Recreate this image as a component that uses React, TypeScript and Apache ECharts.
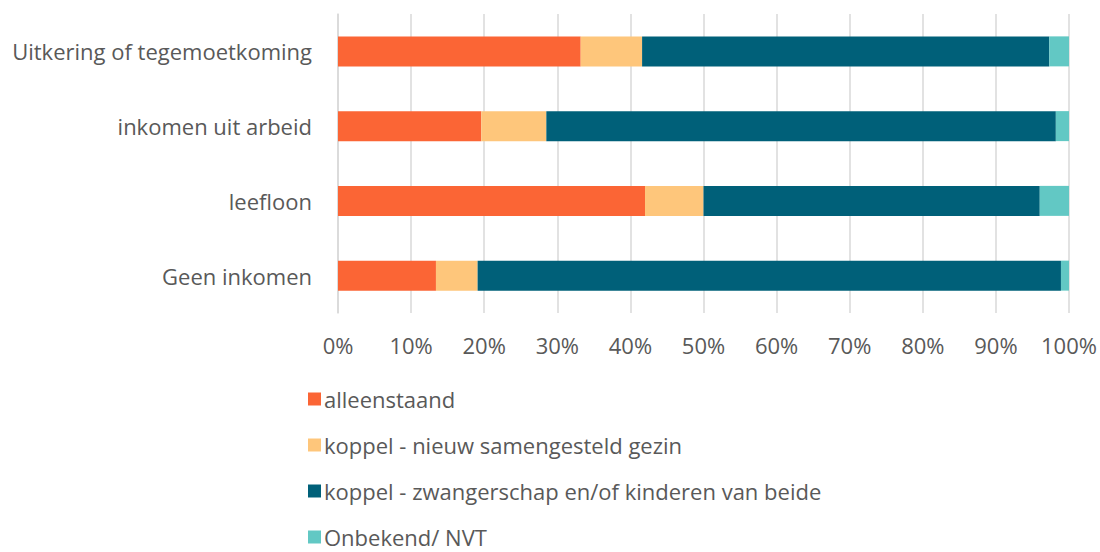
import React, { useEffect, useRef } from "react";
import * as echarts from "echarts";

const categories = ["Uitkering of tegemoetkoming", "inkomen uit arbeid", "leefloon", "Geen inkomen"];
const seriesNames = [
  "alleenstaand",
  "koppel - nieuw samengesteld gezin",
  "koppel - zwangerschap en/of kinderen van beide",
  "Onbekend/ NVT",
];
const alleenstaand = [33.2, 19.6, 42.0, 13.4];
const nieuwGezin = [8.4, 8.9, 8.0, 5.7];
const kinderenBeide = [55.7, 69.7, 46.0, 79.8];
const onbekend = [2.7, 1.8, 4.0, 1.1];
const colors = ["#FB6535", "#FEC67B", "#006079", "#62C8C4"];

export default function App() {
  const ref = useRef<HTMLDivElement>(null);
  useEffect(() => {
    const chart = echarts.init(ref.current!, null, { renderer: "svg" });
    const data = [alleenstaand, nieuwGezin, kinderenBeide, onbekend];
    const font = "'Open Sans', Lato, sans-serif";
    chart.setOption({
      animation: false,
      textStyle: { fontFamily: font },
      grid: { left: 338, right: 31, top: 14, bottom: 239, containLabel: false },
      legend: {
        orient: "vertical",
        left: 303,
        top: 383,
        height: 170,
        itemWidth: 13,
        itemHeight: 13,
        itemGap: 24,
        icon: "rect",
        textStyle: { fontSize: 22, color: "#595959", fontFamily: font, padding: [0, 0, 0, -2] },
        data: seriesNames,
      },
      xAxis: {
        type: "value",
        min: 0,
        max: 100,
        interval: 10,
        axisLabel: { formatter: "{value}%", fontSize: 22, color: "#595959", margin: 21 },
        splitLine: { lineStyle: { color: "#D9D9D9", width: 1.5 } },
        axisLine: { show: false },
        axisTick: { show: false },
      },
      yAxis: {
        type: "category",
        inverse: true,
        data: categories,
        axisLabel: { fontSize: 22, color: "#595959", margin: 26 },
        axisLine: { show: true, lineStyle: { color: "#D9D9D9", width: 1.5 } },
        axisTick: { show: false },
      },
      series: seriesNames.map((name, i) => ({
        name,
        type: "bar",
        stack: "total",
        barWidth: 30,
        data: data[i],
        itemStyle: { color: colors[i] },
      })),
    });
    return () => chart.dispose();
  }, []);
  return <div ref={ref} style={{ width: 1100, height: 552, position: "absolute", left: 0, top: 0 }} />;
}
